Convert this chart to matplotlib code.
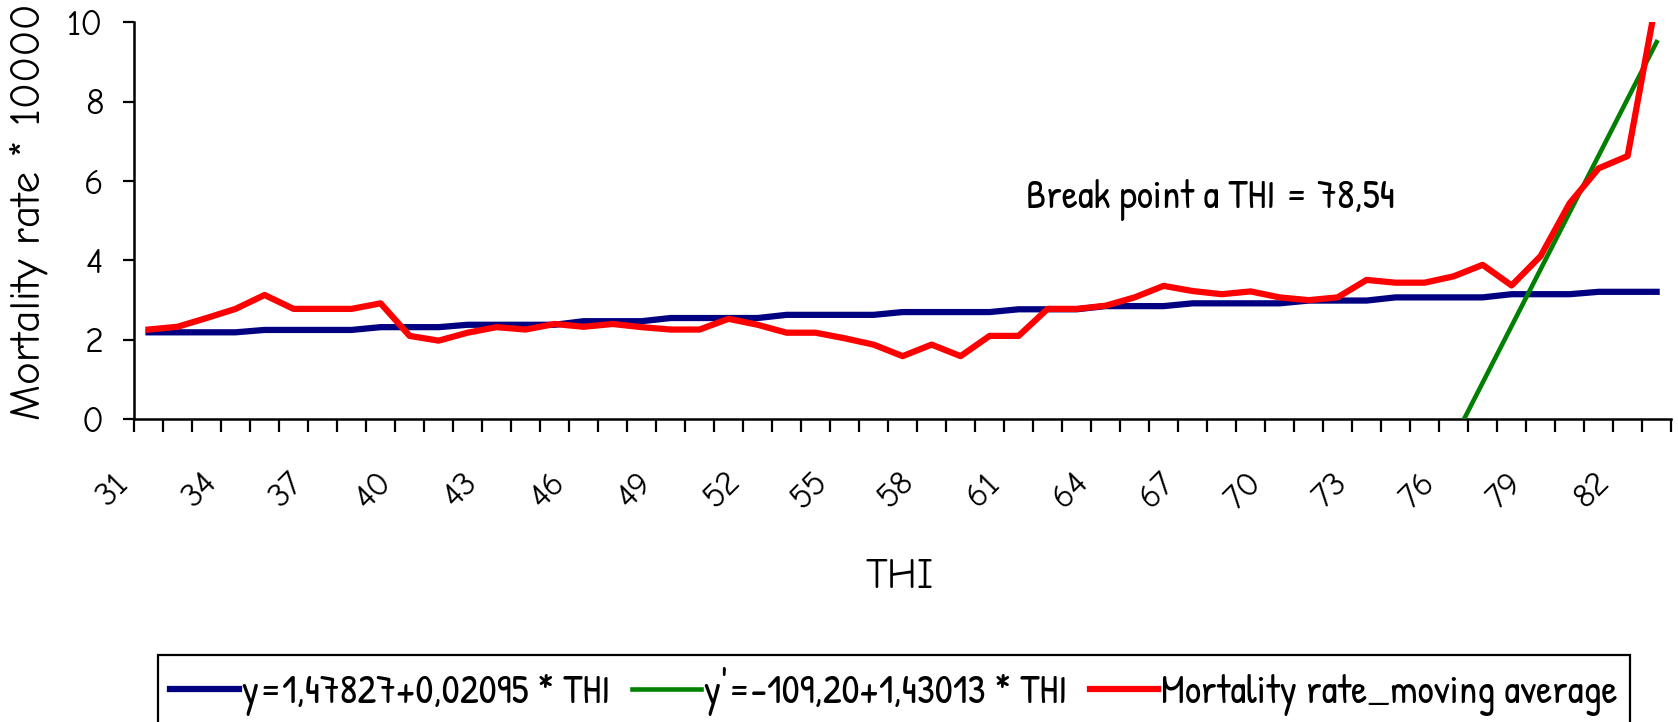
import matplotlib

matplotlib.use("Agg")
import matplotlib.pyplot as plt
import matplotlib.transforms as mtransforms
import numpy as np

# THI classes on the category axis
THI = list(range(31, 84))
TICK_EVERY = 3

# fitted line below the break point (as plotted)
LINE_LOW = (
    [2.19] * 4 + [2.25] * 4 + [2.32] * 3 + [2.38] * 4 + [2.47] * 3
    + [2.55] * 4 + [2.63] * 4 + [2.70] * 4 + [2.77] * 3 + [2.85] * 3
    + [2.92] * 4 + [2.99] * 3 + [3.07] * 4 + [3.15] * 3 + [3.21] * 3
)

# fitted line above the break point, only from THI 76 on
LINE_HIGH_THI = [76, 77, 78, 79, 80, 81, 82, 83]
LINE_HIGH = [-0.51, 0.92, 2.35, 3.78, 5.21, 6.64, 8.07, 9.50]

# moving average of the mortality rate
MORTALITY = [
    2.26, 2.33, 2.55, 2.78, 3.13, 2.78, 2.78, 2.78, 2.92, 2.10,
    1.98, 2.18, 2.32, 2.26, 2.40, 2.33, 2.40, 2.32, 2.26, 2.26,
    2.53, 2.38, 2.18, 2.18, 2.04, 1.88, 1.59, 1.88, 1.59, 2.10,
    2.10, 2.78, 2.78, 2.86, 3.07, 3.36, 3.23, 3.15, 3.22, 3.07,
    3.00, 3.07, 3.51, 3.44, 3.44, 3.60, 3.89, 3.37, 4.11, 5.44,
    6.32, 6.63, 10.60,
]

LABEL_LOW = "y=1,47827+0,02095 * THI"
LABEL_HIGH = "y'=-109,20+1,43013 * THI"
LABEL_MORT = "Mortality rate_moving average"
BREAK_TEXT = "Break point a THI = 78,54"
BREAK_POS = (36.6, 5.52)

COMIC = ["Comic Neue", "DejaVu Sans"]
NARROW = ["Patrick Hand", "Comic Neue", "DejaVu Sans"]

fig = plt.figure(figsize=(16.78, 7.22), dpi=100)
ax = fig.add_axes([0.0799, 0.4193, 0.9160, 0.5499])

idx = np.arange(len(THI))
high_idx = [THI.index(t) for t in LINE_HIGH_THI]

ax.plot(idx, LINE_LOW, color="#000080", lw=4.5, label=LABEL_LOW, zorder=3)
ax.plot(high_idx, LINE_HIGH, color="#008000", lw=3.3, label=LABEL_HIGH, zorder=3)
ax.plot(idx, MORTALITY, color="#FF0000", lw=4.5, label=LABEL_MORT, zorder=4)

ax.set_xlim(-0.5, len(THI) - 0.5)
ax.set_ylim(0, 10)

for side in ("top", "right"):
    ax.spines[side].set_visible(False)
for side in ("left", "bottom"):
    ax.spines[side].set_linewidth(1.8)
    ax.spines[side].set_color("black")

ax.set_yticks(np.arange(0, 11, 2))
ax.tick_params(axis="y", direction="out", length=8, width=1.6, pad=14,
               labelsize=26)
for lab in ax.get_yticklabels():
    lab.set_family(COMIC)

# category boundaries carry the tick marks, labels sit on every third class
ax.set_xticks(np.arange(-0.5, len(THI)), labels=[])
ax.set_xticks(idx[::TICK_EVERY], labels=[str(t) for t in THI[::TICK_EVERY]],
              minor=True)
ax.tick_params(axis="x", which="major", direction="out", length=9, width=1.6)
ax.tick_params(axis="x", which="minor", length=0, pad=0, labelsize=25)
shift = mtransforms.ScaledTranslation(-0.355, -0.71, fig.dpi_scale_trans)
for lab in ax.xaxis.get_minorticklabels():
    lab.set_rotation(45)
    lab.set_rotation_mode("anchor")
    lab.set_ha("center")
    lab.set_va("center")
    lab.set_family(COMIC)
    lab.set_transform(lab.get_transform() + shift)

ax.text(BREAK_POS[0], BREAK_POS[1], BREAK_TEXT, ha="center", va="center",
        fontsize=29, family=NARROW)

fig.text(900 / 1678, 1 - 578 / 722, "THI", ha="center", va="center",
         fontsize=30, family=COMIC)
fig.text(29 / 1678, 1 - 212 / 722, "Mortality rate * 10000", rotation=90,
         ha="center", va="center", fontsize=31, family=COMIC)

leg = fig.legend(
    loc="upper left",
    bbox_to_anchor=(158 / 1678, 1 - 655 / 722),
    ncol=3,
    frameon=True,
    fancybox=False,
    edgecolor="black",
    framealpha=1,
    borderaxespad=0,
    borderpad=0.3,
    handlelength=1.7,
    handletextpad=0.08,
    columnspacing=0.55,
    prop={"family": NARROW, "size": 29},
)
leg.get_frame().set_linewidth(1.6)

fig.savefig("out.png", dpi=100)
